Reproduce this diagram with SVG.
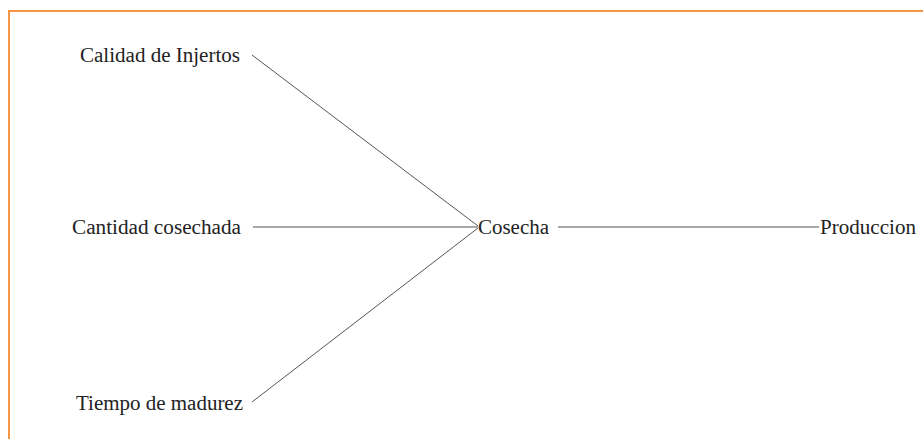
<svg xmlns="http://www.w3.org/2000/svg" width="923" height="439" viewBox="0 0 923 439">
<style>
text{font-family:"Liberation Serif","Times New Roman",serif;font-size:20px;fill:#222}
.c line{stroke:#555;stroke-width:1}
</style>
<rect width="923" height="439" fill="#fff"/>
<path d="M9 440 V11 H924" fill="none" stroke="#F79646" stroke-width="2"/>
<g class="c" id="connectors">
<line x1="252" y1="55" x2="478" y2="226"/>
<line x1="253" y1="227" x2="478" y2="227"/>
<line x1="252" y1="402" x2="478" y2="228"/>
<line x1="558" y1="227" x2="819" y2="227"/>
</g>
<g id="n1"><text x="80" y="62" textLength="160" lengthAdjust="spacingAndGlyphs">Calidad de Injertos</text></g>
<g id="n2"><text x="72" y="234" textLength="169" lengthAdjust="spacingAndGlyphs">Cantidad cosechada</text></g>
<g id="n3"><text x="76" y="410" textLength="167" lengthAdjust="spacingAndGlyphs">Tiempo de madurez</text></g>
<g id="n4"><text x="478" y="234" textLength="71" lengthAdjust="spacingAndGlyphs">Cosecha</text></g>
<g id="n5"><text x="820" y="234" textLength="96" lengthAdjust="spacingAndGlyphs">Produccion</text></g>
</svg>
